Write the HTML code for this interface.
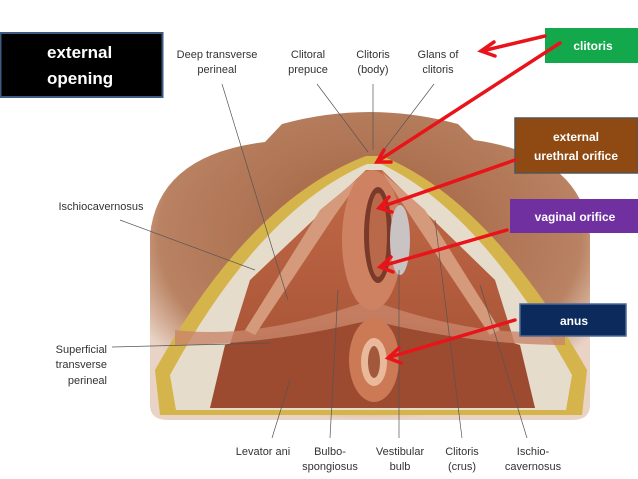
<!DOCTYPE html>
<html><head><meta charset="utf-8"><style>
html,body{margin:0;padding:0;background:#fff;}
svg{display:block;}
.lb{font-family:"Liberation Sans Narrow","Liberation Sans",sans-serif;font-size:11px;fill:#333;}
.bx{font-family:"Liberation Sans",sans-serif;font-weight:bold;fill:#fff;}
</style></head><body>
<svg width="638" height="479" viewBox="0 0 638 479" xmlns="http://www.w3.org/2000/svg">
<defs>
<radialGradient id="sk" cx="50%" cy="40%" r="60%"><stop offset="0" stop-color="#a0603f"/><stop offset="0.8" stop-color="#b98262"/><stop offset="1" stop-color="#e9d3c4"/></radialGradient>
<linearGradient id="mu" x1="0" y1="0" x2="0" y2="1"><stop offset="0" stop-color="#c06a48"/><stop offset="1" stop-color="#a34e32"/></linearGradient>
</defs>
<path d="M150,405 L150,235 Q158,155 265,142 L282,124 Q370,100 458,124 L474,140 Q582,155 590,235 L590,405 Q590,420 572,420 L168,420 Q150,420 150,405 Z" fill="url(#sk)"/>
<path d="M366,156 Q250,200 155,370 L160,415 L582,415 L587,370 Q490,200 382,156 Z" fill="#d6b44c"/>
<path d="M367,164 Q260,210 170,375 L176,410 L566,410 L572,375 Q480,210 381,164 Z" fill="#e6dccb"/>
<path d="M366,170 L250,280 L210,408 L535,408 L495,280 L382,170 Z" fill="url(#mu)"/>
<path d="M225,345 Q370,300 520,345 L535,408 L210,408 Z" fill="#9c4a30"/>
<path d="M175,330 Q260,340 370,300 Q480,340 565,330 L565,345 Q470,345 370,320 Q270,345 175,345 Z" fill="#c9866a" opacity="0.8"/>
<path d="M366,172 L320,210 L245,330 L255,335 L335,215 Z" fill="#d59a7c"/>
<path d="M382,172 L425,210 L500,330 L490,335 L410,215 Z" fill="#d59a7c"/>
<ellipse cx="372" cy="240" rx="30" ry="70" fill="#cf8262"/>
<ellipse cx="378" cy="235" rx="14" ry="48" fill="#7a3a2a"/>
<ellipse cx="378" cy="235" rx="9" ry="42" fill="#b9684a"/>
<ellipse cx="400" cy="240" rx="10" ry="35" fill="#c9c3c4"/>
<ellipse cx="374" cy="360" rx="25" ry="42" fill="#cc7a56"/>
<ellipse cx="374" cy="362" rx="13" ry="24" fill="#eab99c"/>
<ellipse cx="374" cy="362" rx="6" ry="16" fill="#a1583c"/>
<g stroke="#555" stroke-width="0.7" fill="none">
<line x1="222" y1="84" x2="288" y2="300"/>
<line x1="317" y1="84" x2="368" y2="152"/>
<line x1="373" y1="84" x2="373" y2="150"/>
<line x1="434" y1="84" x2="380" y2="155"/>
<line x1="120" y1="220" x2="255" y2="270"/>
<line x1="112" y1="347" x2="270" y2="343"/>
<line x1="272" y1="438" x2="290" y2="380"/>
<line x1="330" y1="438" x2="338" y2="290"/>
<line x1="399" y1="438" x2="399" y2="270"/>
<line x1="462" y1="438" x2="435" y2="220"/>
<line x1="527" y1="438" x2="480" y2="285"/>
</g>
<g class="lb" text-anchor="middle">
<text x="217" y="58">Deep transverse</text><text x="217" y="73">perineal</text>
<text x="308" y="58">Clitoral</text><text x="308" y="73">prepuce</text>
<text x="373" y="58">Clitoris</text><text x="373" y="73">(body)</text>
<text x="438" y="58">Glans of</text><text x="438" y="73">clitoris</text>
<text x="101" y="210">Ischiocavernosus</text>
<text x="263" y="455">Levator ani</text>
<text x="330" y="455">Bulbo-</text><text x="330" y="470">spongiosus</text>
<text x="400" y="455">Vestibular</text><text x="400" y="470">bulb</text>
<text x="462" y="455">Clitoris</text><text x="462" y="470">(crus)</text>
<text x="533" y="455">Ischio-</text><text x="533" y="470">cavernosus</text>
</g>
<g class="lb" text-anchor="end">
<text x="107" y="353">Superficial</text><text x="107" y="368">transverse</text><text x="107" y="384">perineal</text>
</g>
<rect x="0.5" y="33" width="162" height="64" fill="#000" stroke="#3d5a80" stroke-width="2"/>
<text class="bx" x="47" y="58" font-size="17">external</text>
<text class="bx" x="47" y="84" font-size="17">opening</text>
<rect x="545" y="28" width="93" height="35" fill="#13a84c"/>
<text class="bx" x="593" y="50" font-size="12" text-anchor="middle">clitoris</text>
<rect x="515" y="118" width="123" height="55" fill="#8e4a12" stroke="#555" stroke-width="1.5"/>
<text class="bx" x="576" y="141" font-size="12" text-anchor="middle">external</text>
<text class="bx" x="576" y="160" font-size="12" text-anchor="middle">urethral orifice</text>
<rect x="510" y="199" width="128" height="34" fill="#7030a0"/>
<text class="bx" x="575" y="221" font-size="12" text-anchor="middle">vaginal orifice</text>
<rect x="520" y="304" width="106" height="32" fill="#0d2a5c" stroke="#4a6a9a" stroke-width="1.5"/>
<text class="bx" x="574" y="325" font-size="12" text-anchor="middle">anus</text>
<g stroke="#e8141a" stroke-width="3.5" fill="none" stroke-linecap="round">
<line x1="545" y1="36" x2="482" y2="51"/><polyline points="494,42 481,51 495,56"/>
<line x1="560" y1="43" x2="378" y2="161"/><polyline points="384,150 377,162 391,162"/>
<line x1="515" y1="160" x2="381" y2="207"/><polyline points="389,197 379,208 392,212"/>
<line x1="507" y1="230" x2="382" y2="266"/><polyline points="391,257 380,267 393,272"/>
<line x1="515" y1="320" x2="390" y2="357"/><polyline points="399,348 388,358 401,363"/>
</g>
</svg>
</body></html>
